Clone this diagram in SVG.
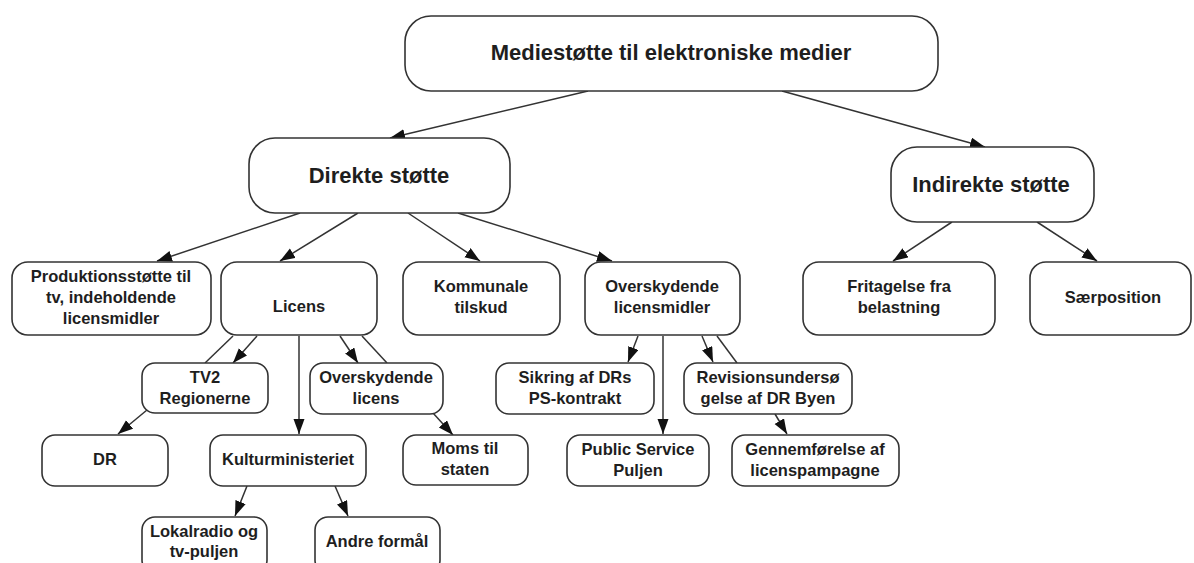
<svg xmlns="http://www.w3.org/2000/svg" width="1194" height="563" viewBox="0 0 1194 563">
<style>
.box{fill:#fff;stroke:#333;stroke-width:1.6}
.t{font-family:"Liberation Sans",Arial,sans-serif;font-weight:bold;fill:#1e1e1e;text-anchor:middle}
.big{font-size:22px}
.sm{font-size:16.5px}
.c line{stroke:#333;stroke-width:1.5;fill:none}
.c line.a{marker-end:url(#ah)}
</style>
<defs>
<marker id="ah" markerUnits="userSpaceOnUse" markerWidth="18" markerHeight="14" refX="15" refY="5.5" orient="auto">
<path d="M0,0 L15,5.5 L0,11 Z" fill="#111"/>
</marker>
</defs>
<rect width="1194" height="563" fill="#fff"/>
<g class="c" id="connectors">
<line class="a" x1="588" y1="91" x2="390" y2="138"/>
<line class="a" x1="782" y1="91" x2="985" y2="147"/>
<line class="a" x1="300" y1="213" x2="157" y2="261"/>
<line class="a" x1="358" y1="213" x2="280" y2="261"/>
<line class="a" x1="408" y1="213" x2="480" y2="261"/>
<line class="a" x1="458" y1="213" x2="612" y2="261"/>
<line class="a" x1="952" y1="222" x2="893" y2="261"/>
<line class="a" x1="1037" y1="222" x2="1097" y2="261"/>
<line class="a" x1="257" y1="336" x2="233" y2="363"/>
<line x1="233" y1="336" x2="205" y2="363"/>
<line class="a" x1="299" y1="336" x2="299" y2="434"/>
<line class="a" x1="340" y1="336" x2="358" y2="363"/>
<line x1="362" y1="336" x2="387" y2="363"/>
<line class="a" x1="147" y1="410" x2="118" y2="434"/>
<line class="a" x1="433" y1="413" x2="453" y2="435"/>
<line class="a" x1="247" y1="486" x2="235" y2="516"/>
<line class="a" x1="335" y1="486" x2="348" y2="516"/>
<line class="a" x1="638" y1="336" x2="628" y2="362"/>
<line class="a" x1="663" y1="336" x2="663" y2="434"/>
<line class="a" x1="702" y1="336" x2="713" y2="362"/>
<line x1="717" y1="336" x2="737" y2="363"/>
<line class="a" x1="775" y1="414" x2="787" y2="434"/>
</g>
<g id="n-top"><rect class="box" x="405" y="16" width="533" height="75" rx="26"/><text class="t big" x="671" y="60">Mediestøtte til elektroniske medier</text></g>
<g id="n-direkte"><rect class="box" x="249" y="138" width="261" height="75" rx="26"/><text class="t big" x="379" y="183">Direkte støtte</text></g>
<g id="n-indirekte"><rect class="box" x="891" y="147" width="203" height="75" rx="26"/><text class="t big" x="991" y="192">Indirekte støtte</text></g>
<g id="n-prod"><rect class="box" x="12" y="262" width="199" height="73" rx="16"/><text class="t sm" x="111" y="282">Produktionsstøtte til</text><text class="t sm" x="111" y="303">tv, indeholdende</text><text class="t sm" x="111" y="324">licensmidler</text></g>
<g id="n-licens"><rect class="box" x="221" y="262" width="156" height="73" rx="16"/><text class="t sm" x="299" y="312">Licens</text></g>
<g id="n-kommunale"><rect class="box" x="403" y="262" width="157" height="73" rx="16"/><text class="t sm" x="481" y="292">Kommunale</text><text class="t sm" x="481" y="313">tilskud</text></g>
<g id="n-overlicmid"><rect class="box" x="585" y="262" width="155" height="73" rx="16"/><text class="t sm" x="662" y="292">Overskydende</text><text class="t sm" x="662" y="313">licensmidler</text></g>
<g id="n-fritagelse"><rect class="box" x="803" y="262" width="192" height="73" rx="16"/><text class="t sm" x="899" y="292">Fritagelse fra</text><text class="t sm" x="899" y="313">belastning</text></g>
<g id="n-saer"><rect class="box" x="1030" y="262" width="161" height="73" rx="16"/><text class="t sm" x="1113" y="303">Særposition</text></g>
<g id="n-tv2"><rect class="box" x="142" y="363" width="126" height="50" rx="13"/><text class="t sm" x="205" y="383">TV2</text><text class="t sm" x="205" y="404">Regionerne</text></g>
<g id="n-overlic"><rect class="box" x="310" y="363" width="133" height="51" rx="13"/><text class="t sm" x="376" y="383">Overskydende</text><text class="t sm" x="376" y="404">licens</text></g>
<g id="n-dr"><rect class="box" x="42" y="435" width="126" height="51" rx="13"/><text class="t sm" x="105" y="465">DR</text></g>
<g id="n-kultur"><rect class="box" x="210" y="435" width="156" height="51" rx="13"/><text class="t sm" x="288" y="465">Kulturministeriet</text></g>
<g id="n-moms"><rect class="box" x="403" y="435" width="125" height="50" rx="13"/><text class="t sm" x="465" y="454">Moms til</text><text class="t sm" x="465" y="475">staten</text></g>
<g id="n-sikring"><rect class="box" x="496" y="363" width="158" height="51" rx="13"/><text class="t sm" x="575" y="383">Sikring af DRs</text><text class="t sm" x="575" y="404">PS-kontrakt</text></g>
<g id="n-revision"><rect class="box" x="684" y="363" width="168" height="51" rx="13"/><text class="t sm" x="768" y="383">Revisionsundersø</text><text class="t sm" x="768" y="404">gelse af DR Byen</text></g>
<g id="n-public"><rect class="box" x="567" y="435" width="142" height="51" rx="13"/><text class="t sm" x="638" y="455">Public Service</text><text class="t sm" x="638" y="476">Puljen</text></g>
<g id="n-gennem"><rect class="box" x="732" y="435" width="167" height="51" rx="13"/><text class="t sm" x="815" y="455">Gennemførelse af</text><text class="t sm" x="815" y="476">licenspampagne</text></g>
<g id="n-lokal"><rect class="box" x="142" y="517" width="125" height="56" rx="13"/><text class="t sm" x="204" y="537">Lokalradio og</text><text class="t sm" x="204" y="557">tv-puljen</text></g>
<g id="n-andre"><rect class="box" x="315" y="517" width="125" height="56" rx="13"/><text class="t sm" x="377" y="547">Andre formål</text></g>
</svg>
